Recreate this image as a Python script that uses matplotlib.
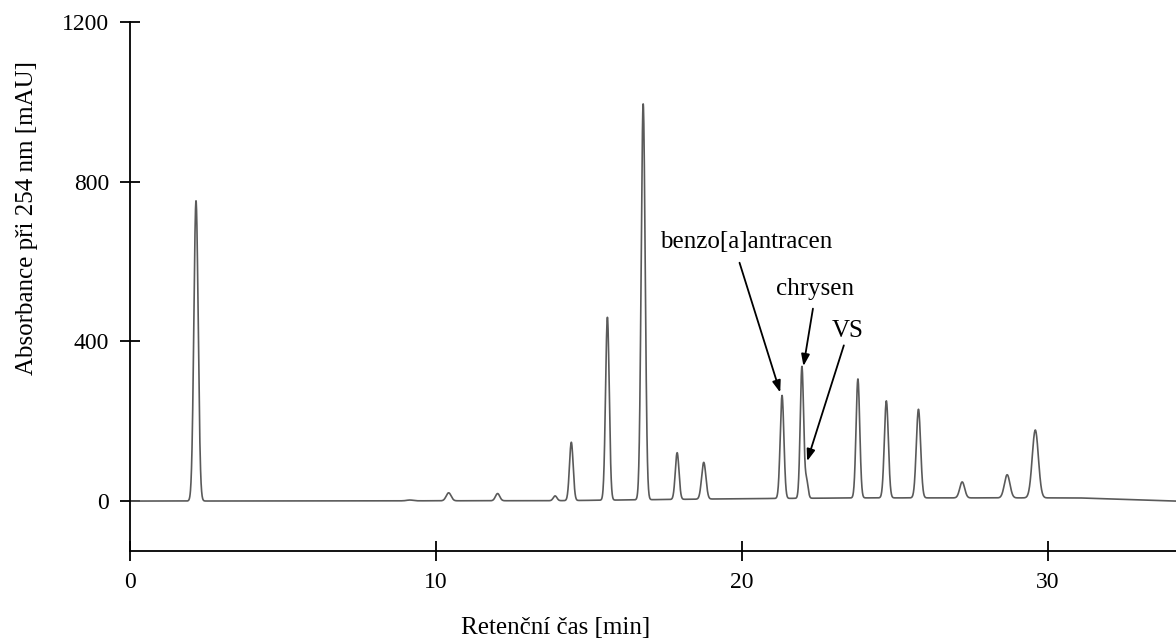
import numpy as np
import matplotlib

matplotlib.use("Agg")
import matplotlib.pyplot as plt

# peak table: retention time [min], height [mAU], sigma [min]
peak_times = [2.16, 9.15, 10.42, 12.02, 13.90, 14.43, 15.61, 16.78, 17.89, 18.76,
              21.32, 21.97, 22.12, 23.80, 24.73, 25.78, 27.21, 28.68, 29.60]
peak_heights = [752, 2, 20, 18, 12, 146, 458, 992, 117, 92,
                258, 330, 45, 298, 243, 222, 40, 58, 170]
peak_sigmas = [0.07, 0.10, 0.08, 0.07, 0.06, 0.06, 0.06, 0.065, 0.06, 0.07,
               0.06, 0.055, 0.05, 0.06, 0.065, 0.07, 0.08, 0.09, 0.10]

# slow baseline drift (time, level)
drift_times = [0.0, 14.0, 20.0, 24.0, 31.0, 34.2]
drift_levels = [0.0, 1.0, 6.0, 8.0, 8.0, 0.0]

# labelled peaks: text position, arrow start, arrow tip
labels = ["benzo[a]antracen", "chrysen", "VS"]
label_xy = [(20.16, 650), (22.39, 532), (23.46, 427)]
arrow_from = [(19.93, 597), (22.33, 482), (23.34, 390)]
arrow_to = [(21.26, 272), (22.02, 338), (22.14, 100)]

plt.rcParams["font.family"] = ["Liberation Serif", "DejaVu Serif"]

t = np.linspace(0, 34.2, 6000)
signal = np.interp(t, drift_times, drift_levels)
for rt, h, s in zip(peak_times, peak_heights, peak_sigmas):
    signal = signal + h * np.exp(-0.5 * ((t - rt) / s) ** 2)

fig = plt.figure(figsize=(11.76, 6.43), dpi=100)
ax = fig.add_axes([0.1105, 0.1431, 0.8895, 0.8227])

ax.plot(t, signal, color="#5a5a5a", lw=1.2)

for text, xy, start, tip in zip(labels, label_xy, arrow_from, arrow_to):
    ax.text(xy[0], xy[1], text, ha="center", va="center", fontsize=18)
    ax.annotate("", xy=tip, xytext=start,
                arrowprops=dict(arrowstyle="-|>,head_length=0.7,head_width=0.25",
                                color="black", lw=1.3, shrinkA=0, shrinkB=0))

ax.set_xlim(0, 34.2)
ax.set_ylim(-125, 1200)
ax.set_xticks([0, 10, 20, 30])
ax.set_yticks([0, 400, 800, 1200])
ax.spines["top"].set_visible(False)
ax.spines["right"].set_visible(False)
for side in ("left", "bottom"):
    ax.spines[side].set_linewidth(1.3)
ax.tick_params(axis="both", direction="inout", length=14, width=1.3, labelsize=17, pad=8)

fig.text(27 / 1176, 1 - 218 / 643, "Absorbance při 254 nm [mAU]", rotation=90,
         ha="center", va="center", fontsize=18)
fig.text(556 / 1176, 1 - 628 / 643, "Retenční čas [min]", ha="center", va="center", fontsize=18)

fig.savefig("out.png", dpi=100)
